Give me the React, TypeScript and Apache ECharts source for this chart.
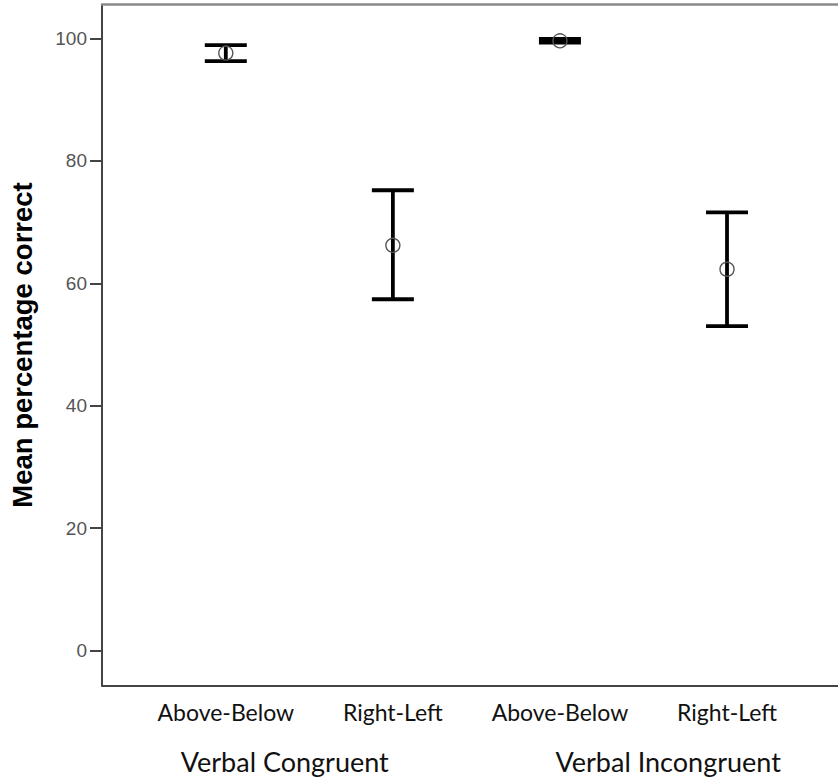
import React, { useEffect, useRef } from "react";
import * as echarts from "echarts";

// Conditions along the x axis (positions 0..3)
const conditions = ["Above-Below", "Right-Left", "Above-Below", "Right-Left"];
const conditionPos = [0, 1, 2, 3];
// Group captions under the condition labels, placed on the same x scale
const groups = ["Verbal Congruent", "Verbal Incongruent"];
const groupPos = [0.353, 2.648];

// Mean percentage correct with error bar limits
const means = [97.6, 66.2, 99.6, 62.3];
const lower = [96.3, 57.4, 99.3, 53.0];
const upper = [98.9, 75.2, 99.9, 71.6];

const yTicks = [0, 20, 40, 60, 80, 100];

const labelFont = "Lato, 'Open Sans', sans-serif";
const axisFont = "'Liberation Sans', Arial, sans-serif";

// The plot area runs on past the right edge of the visible frame
const CHART_W = 880;
const X_MIN = -0.741;
const X_MAX = 3.796;

export default function App() {
  const ref = useRef<HTMLDivElement>(null);

  useEffect(() => {
    if (!ref.current) return;
    document.documentElement.style.overflow = "hidden";
    document.body.style.margin = "0";
    document.body.style.overflow = "hidden";
    const chart = echarts.init(ref.current, undefined, { renderer: "svg" });

    const data = conditionPos.map((p, i) => [p, lower[i], upper[i], means[i]]);

    chart.setOption({
      animation: false,
      backgroundColor: "#ffffff",
      grid: { left: 101, top: 4.7, right: 20, bottom: 778 - 685.3, containLabel: false },
      xAxis: [
        {
          type: "value",
          min: X_MIN,
          max: X_MAX,
          position: "bottom",
          splitLine: { show: false },
          axisLine: { show: true, onZero: false, lineStyle: { color: "#444444", width: 2 } },
          axisTick: { show: false },
          axisLabel: {
            customValues: conditionPos,
            formatter: (v: number) => conditions[Math.round(v)] ?? "",
            fontFamily: labelFont,
            fontSize: 23,
            color: "#111111",
            margin: 15,
          },
        },
        {
          type: "value",
          min: X_MIN,
          max: X_MAX,
          position: "bottom",
          offset: 0,
          splitLine: { show: false },
          axisLine: { show: false },
          axisTick: { show: false },
          axisLabel: {
            customValues: groupPos,
            formatter: (v: number) => {
              const k = groupPos.findIndex((g) => Math.abs(g - v) < 1e-6);
              return k >= 0 ? groups[k] : "";
            },
            fontFamily: labelFont,
            fontSize: 27,
            color: "#111111",
            margin: 63,
          },
        },
        {
          type: "value",
          min: X_MIN,
          max: X_MAX,
          position: "top",
          splitLine: { show: false },
          axisLine: { show: true, onZero: false, lineStyle: { color: "#8a8a8a", width: 2.5 } },
          axisTick: { show: false },
          axisLabel: { show: false },
        },
      ],
      yAxis: {
        type: "value",
        min: -5.65,
        max: 105.5,
        name: "Mean percentage correct",
        nameLocation: "middle",
        nameGap: 66,
        nameRotate: 90,
        nameTextStyle: {
          fontFamily: axisFont,
          fontWeight: "bold",
          fontSize: 27.5,
          color: "#000000",
        },
        splitLine: { show: false },
        axisLine: { show: true, onZero: false, lineStyle: { color: "#444444", width: 2 } },
        axisTick: {
          show: true,
          customValues: yTicks,
          length: 12,
          lineStyle: { color: "#444444", width: 2 },
        },
        axisLabel: {
          customValues: yTicks,
          fontFamily: axisFont,
          fontSize: 19,
          color: "#555555",
          margin: 15,
        },
      },
      series: [
        {
          type: "custom",
          xAxisIndex: 0,
          clip: false,
          data,
          renderItem: (params: any, api: any) => {
            const x = api.value(0);
            const lo = api.coord([x, api.value(1)]);
            const hi = api.coord([x, api.value(2)]);
            const mid = api.coord([x, api.value(3)]);
            const capHalf = 21;
            const stroke = { stroke: "#000000", lineWidth: 3.8 };
            return {
              type: "group",
              children: [
                {
                  type: "line",
                  shape: { x1: lo[0], y1: lo[1], x2: hi[0], y2: hi[1] },
                  style: stroke,
                },
                {
                  type: "line",
                  shape: { x1: hi[0] - capHalf, y1: hi[1], x2: hi[0] + capHalf, y2: hi[1] },
                  style: stroke,
                },
                {
                  type: "line",
                  shape: { x1: lo[0] - capHalf, y1: lo[1], x2: lo[0] + capHalf, y2: lo[1] },
                  style: stroke,
                },
                {
                  type: "circle",
                  shape: { cx: mid[0], cy: mid[1], r: 7 },
                  style: { fill: "none", stroke: "#555555", lineWidth: 1.4 },
                },
              ],
            };
          },
        },
      ],
    });

    return () => chart.dispose();
  }, []);

  return (
    <div
      style={{
        position: "absolute",
        left: 0,
        top: 0,
        width: 838,
        height: 778,
        overflow: "hidden",
        background: "#ffffff",
      }}
    >
      <div ref={ref} style={{ width: CHART_W, height: 778 }} />
    </div>
  );
}
